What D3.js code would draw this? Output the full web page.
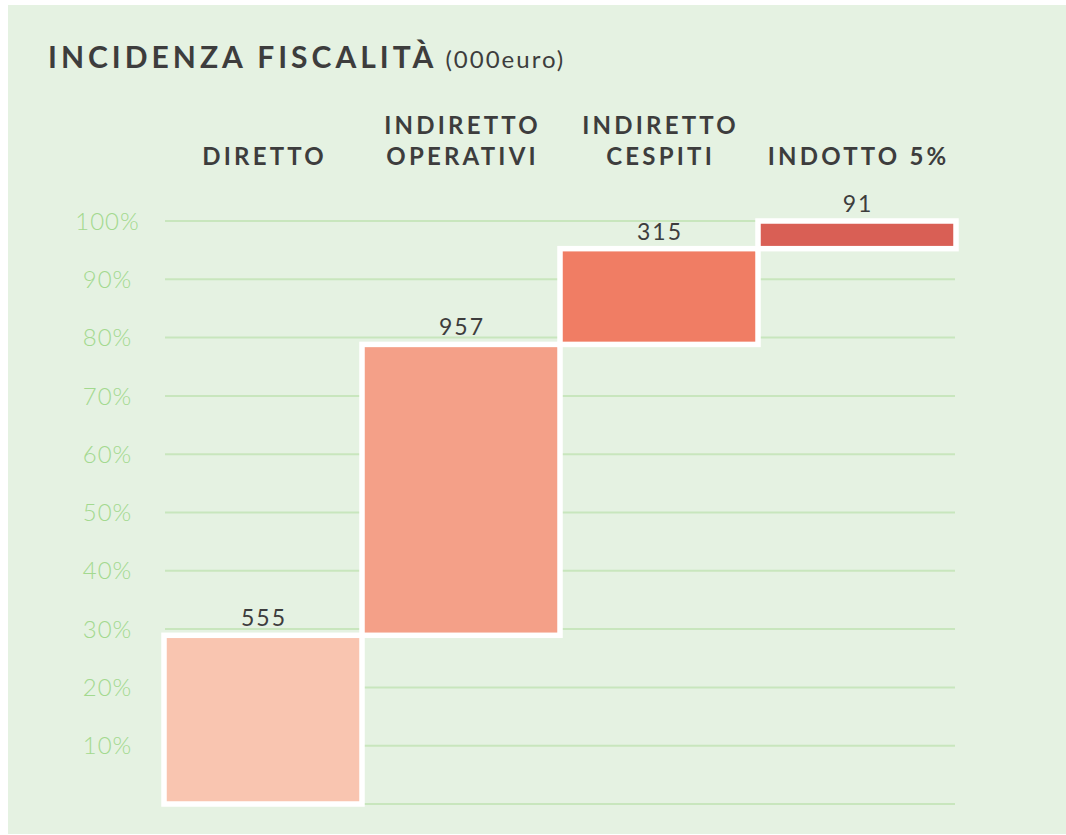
<!DOCTYPE html>
<html>
<head>
<meta charset="utf-8">
<script src="https://cdn.jsdelivr.net/npm/d3@7"></script>
<style>
  body { margin: 0; background: #ffffff; }
  svg text { font-family: Lato, "Noto Sans", sans-serif; }
</style>
</head>
<body>
<div id="chart"></div>
<script>
// data
let categories = [["DIRETTO"], ["INDIRETTO", "OPERATIVI"], ["INDIRETTO", "CESPITI"], ["INDOTTO 5%"]];
let values = [555, 957, 315, 91];
let barColors = ["#f9c5b0", "#f4a088", "#f07d64", "#d95f55"];
let tickValues = [0.1, 0.2, 0.3, 0.4, 0.5, 0.6, 0.7, 0.8, 0.9, 1.0];

let width = 1066;
let height = 835;

let svg = d3.select("#chart")
	.append("svg")
	.attr("width", width)
	.attr("height", height);

// panel
svg.append("rect")
	.attr("x", 8)
	.attr("y", 5)
	.attr("width", width - 8)
	.attr("height", 829)
	.attr("fill", "#e5f2e2");

// title
let title = svg.append("text")
	.attr("x", 48)
	.attr("y", 68)
	.attr("fill", "#3d3d3d");
title.append("tspan")
	.attr("font-size", 30)
	.attr("font-weight", 700)
	.attr("letter-spacing", 4)
	.text("INCIDENZA FISCALITÀ");
title.append("tspan")
	.attr("font-size", 24)
	.attr("font-weight", 400)
	.attr("letter-spacing", 2)
	.attr("dx", 8)
	.text("(000euro)");

let total = d3.sum(values);
let cumul = d3.cumsum(values);
let steps = values.map((v, i) => ({
	value: v,
	start: (cumul[i] - v) / total,
	end: cumul[i] / total,
	i: i
}));

let x = d3.scaleBand()
	.domain(d3.range(values.length))
	.range([164, 956])
	.padding(0);

let y = d3.scaleLinear()
	.domain([0, 1])
	.range([804, 221]);

// grid
svg.append("g")
	.selectAll("line")
	.data([0].concat(tickValues))
	.enter().append("line")
	.attr("x1", 165)
	.attr("x2", 955)
	.attr("y1", d => y(d))
	.attr("y2", d => y(d))
	.attr("stroke", "#c8e6bd")
	.attr("stroke-width", 2);

// y axis labels
svg.append("g")
	.selectAll("text")
	.data(tickValues)
	.enter().append("text")
	.attr("x", 107)
	.attr("dx", 0.5)
	.attr("y", d => y(d))
	.attr("dy", "0.36em")
	.attr("text-anchor", "middle")
	.attr("font-size", 24)
	.attr("font-weight", 300)
	.attr("letter-spacing", 1)
	.attr("fill", "#a3d98f")
	.text(d => d3.format(".0%")(d));

// bars
svg.append("g")
	.selectAll("rect")
	.data(steps)
	.enter().append("rect")
	.attr("x", d => x(d.i))
	.attr("width", x.bandwidth())
	.attr("y", d => y(d.end))
	.attr("height", d => y(d.start) - y(d.end))
	.attr("fill", d => barColors[d.i])
	.attr("stroke", "#ffffff")
	.attr("stroke-width", 5.5);

// value labels
svg.append("g")
	.selectAll("text")
	.data(steps)
	.enter().append("text")
	.attr("x", d => x(d.i) + x.bandwidth() / 2)
	.attr("dx", 1)
	.attr("y", d => y(d.end) - 9)
	.attr("text-anchor", "middle")
	.attr("font-size", 23)
	.attr("fill", "#3d3d3d")
	.attr("letter-spacing", 2)
	.text(d => d.value);

// category labels
let cat = svg.append("g")
	.selectAll("text")
	.data(categories)
	.enter().append("text")
	.attr("text-anchor", "middle")
	.attr("font-size", 24)
	.attr("font-weight", 700)
	.attr("letter-spacing", 3.2)
	.attr("fill", "#3d3d3d");

cat.selectAll("tspan")
	.data((d, i) => d.map((t, k) => ({t: t, k: k, n: d.length, i: i})))
	.enter().append("tspan")
	.attr("x", d => x(d.i) + x.bandwidth() / 2 + 1.6)
	.attr("y", d => 164.5 - (d.n - 1 - d.k) * 31)
	.text(d => d.t);
</script>
</body>
</html>
